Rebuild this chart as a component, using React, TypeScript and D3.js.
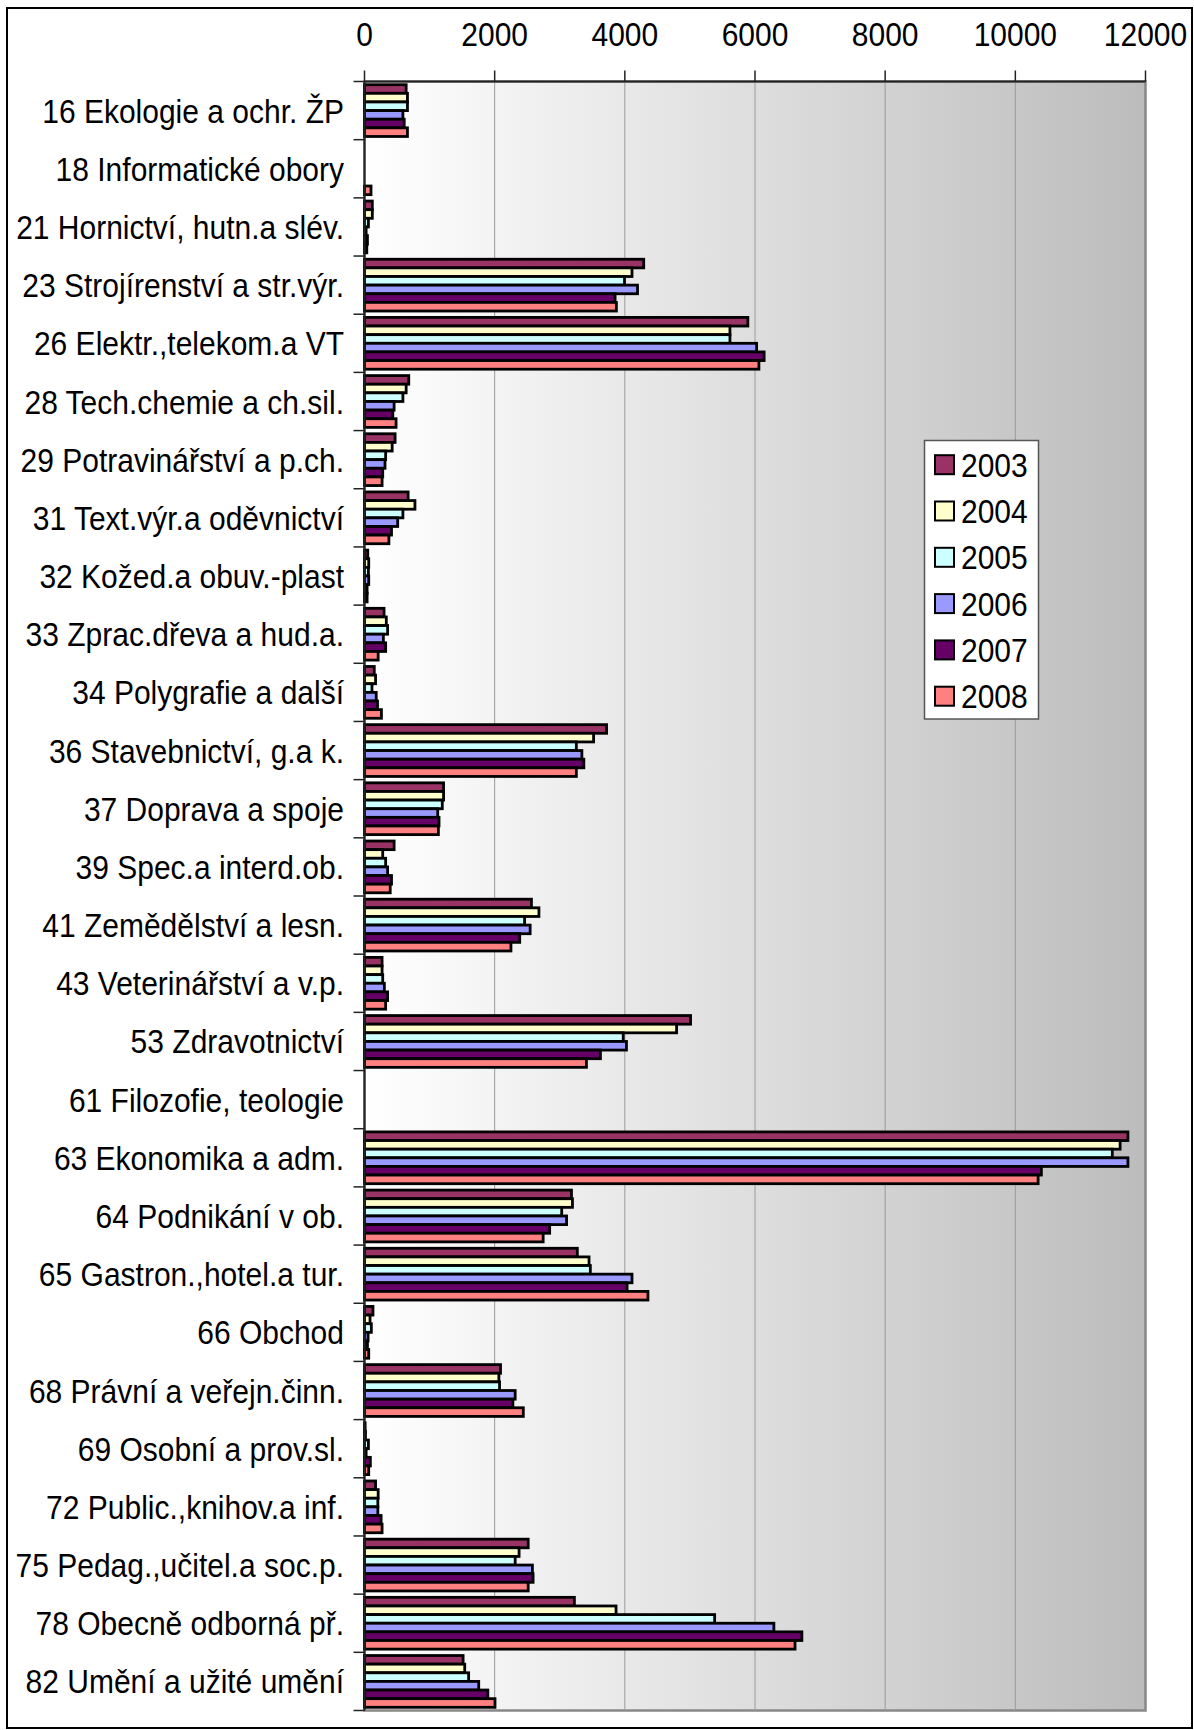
import React from "react";
import * as d3 from "d3";

const categories = [
  "16 Ekologie a ochr. ŽP",
  "18 Informatické obory",
  "21 Hornictví, hutn.a slév.",
  "23 Strojírenství a str.výr.",
  "26 Elektr.,telekom.a VT",
  "28 Tech.chemie a ch.sil.",
  "29 Potravinářství a p.ch.",
  "31 Text.výr.a oděvnictví",
  "32 Kožed.a obuv.-plast",
  "33 Zprac.dřeva a hud.a.",
  "34 Polygrafie a další",
  "36 Stavebnictví, g.a k.",
  "37 Doprava a spoje",
  "39 Spec.a interd.ob.",
  "41 Zemědělství a lesn.",
  "43 Veterinářství a v.p.",
  "53 Zdravotnictví",
  "61 Filozofie, teologie",
  "63 Ekonomika a adm.",
  "64 Podnikání v ob.",
  "65 Gastron.,hotel.a tur.",
  "66 Obchod",
  "68 Právní a veřejn.činn.",
  "69 Osobní a prov.sl.",
  "72 Public.,knihov.a inf.",
  "75 Pedag.,učitel.a soc.p.",
  "78 Obecně odborná př.",
  "82 Umění a užité umění",
];

const years = ["2003", "2004", "2005", "2006", "2007", "2008"];

const v2003 = [640, 0, 120, 4290, 5890, 680, 470, 670, 50, 300, 150, 3720, 1215, 455, 2565, 270, 5010, 0, 11730, 3180, 3270, 130, 2090, 10, 170, 2515, 3225, 1515];
const v2004 = [660, 0, 120, 4110, 5615, 640, 425, 775, 65, 335, 170, 3520, 1215, 280, 2680, 270, 4795, 0, 11610, 3195, 3450, 85, 2065, 15, 210, 2375, 3865, 1540];
const v2005 = [660, 0, 60, 3995, 5615, 590, 325, 590, 60, 355, 115, 3255, 1195, 325, 2460, 280, 3975, 0, 11490, 3030, 3470, 105, 2075, 60, 205, 2315, 5380, 1600];
const v2006 = [590, 0, 25, 4195, 6025, 455, 315, 510, 65, 290, 180, 3340, 1125, 355, 2545, 305, 4025, 0, 11730, 3105, 4110, 55, 2315, 25, 205, 2580, 6290, 1755];
const v2007 = [610, 0, 45, 3850, 6140, 435, 280, 415, 40, 325, 200, 3370, 1145, 415, 2385, 355, 3625, 0, 10400, 2845, 4035, 45, 2280, 90, 255, 2590, 6720, 1895];
const v2008 = [660, 100, 35, 3870, 6060, 485, 270, 375, 40, 210, 260, 3255, 1135, 395, 2250, 325, 3410, 0, 10350, 2745, 4355, 65, 2440, 65, 270, 2515, 6615, 2005];

const seriesValues = [v2003, v2004, v2005, v2006, v2007, v2008];
const colors = ["#993366", "#FFFFCC", "#CCFFFF", "#9999FF", "#660066", "#FF8080"];
const xTicks = [0, 2000, 4000, 6000, 8000, 10000, 12000];

const W = 1194;
const H = 1730;
const plot = { left: 364.5, right: 1145.5, top: 81.5, bottom: 1710.5 };
const FONT = "'Liberation Sans', Arial, Helvetica, sans-serif";
const SY = 1.12;

function Label(props: { x: number; y: number; anchor?: string; children: React.ReactNode }) {
  return (
    <text
      transform={`translate(${props.x},${props.y}) scale(1,${SY})`}
      textAnchor={props.anchor || "start"}
      fontSize={30}
      fill="#000"
    >
      {props.children}
    </text>
  );
}

export default function App() {
  const x = d3.scaleLinear().domain([0, 12000]).range([plot.left, plot.right]);
  const y0 = d3.scaleBand<string>().domain(categories).range([plot.top, plot.bottom]);
  const step = y0.bandwidth();
  const pad = step * 0.055;
  const y1 = d3.scaleBand<string>().domain(years).range([pad, step - pad]);
  const bh = y1.bandwidth();

  const legendX = 924.5;
  const legendY = 440.5;
  const legendW = 114;
  const legendH = 278.5;
  const legendStep = 46.3;
  const capHalf = 30 * 0.716 * SY * 0.5;

  return (
    <svg width={W} height={H} style={{ display: "block", position: "absolute", left: 0, top: 0 }} fontFamily={FONT}>
      <defs>
        <linearGradient id="bg" x1="0" x2="1" y1="0" y2="0">
          <stop offset="0" stopColor="#ffffff" />
          <stop offset="1" stopColor="#bcbcbc" />
        </linearGradient>
      </defs>
      <rect x={0} y={0} width={W} height={H} fill="#fff" />
      <rect x={7} y={8} width={1185} height={1720} fill="#fff" stroke="#000" strokeWidth={2} />
      <rect
        x={plot.left}
        y={plot.top}
        width={plot.right - plot.left}
        height={plot.bottom - plot.top}
        fill="url(#bg)"
        stroke="#888"
        strokeWidth={2.5}
      />
      {xTicks.slice(1, -1).map((t) => (
        <line key={"g" + t} x1={x(t)} x2={x(t)} y1={plot.top} y2={plot.bottom} stroke="#9a9a9a" strokeWidth={1} />
      ))}
      {categories.map((c, ci) => (
        <g key={c} transform={`translate(0,${y0(c)})`}>
          {years.map((yr, si) => {
            const v = seriesValues[si][ci];
            if (!v) return null;
            return (
              <rect
                key={yr}
                x={x(0)}
                y={y1(yr)}
                width={x(v) - x(0)}
                height={bh}
                fill={colors[si]}
                stroke="#000"
                strokeWidth={2.8}
              />
            );
          })}
        </g>
      ))}
      <line x1={plot.left} x2={plot.right} y1={plot.top} y2={plot.top} stroke="#222" strokeWidth={2} />
      {xTicks.map((t) => (
        <g key={"t" + t}>
          <line x1={x(t)} x2={x(t)} y1={plot.top - 11} y2={plot.top} stroke="#222" strokeWidth={1.5} />
          <Label x={x(t)} y={46} anchor="middle">
            {t}
          </Label>
        </g>
      ))}
      <line x1={plot.left} x2={plot.left} y1={plot.top} y2={plot.bottom} stroke="#222" strokeWidth={2} />
      {d3.range(categories.length + 1).map((i) => (
        <line
          key={"ct" + i}
          x1={plot.left - 11}
          x2={plot.left}
          y1={plot.top + i * step}
          y2={plot.top + i * step}
          stroke="#222"
          strokeWidth={1.5}
        />
      ))}
      {categories.map((c) => (
        <Label key={"l" + c} x={344} y={(y0(c) as number) + step / 2 + capHalf} anchor="end">
          {c}
        </Label>
      ))}
      <rect x={legendX} y={legendY} width={legendW} height={legendH} fill="#fff" stroke="#555" strokeWidth={1.5} />
      {years.map((yr, i) => {
        const cy = 464.7 + i * legendStep;
        return (
          <g key={"lg" + yr}>
            <rect x={935} y={cy - 9.5} width={19} height={19} fill={colors[i]} stroke="#000" strokeWidth={2} />
            <Label x={961} y={cy + capHalf}>
              {yr}
            </Label>
          </g>
        );
      })}
    </svg>
  );
}
